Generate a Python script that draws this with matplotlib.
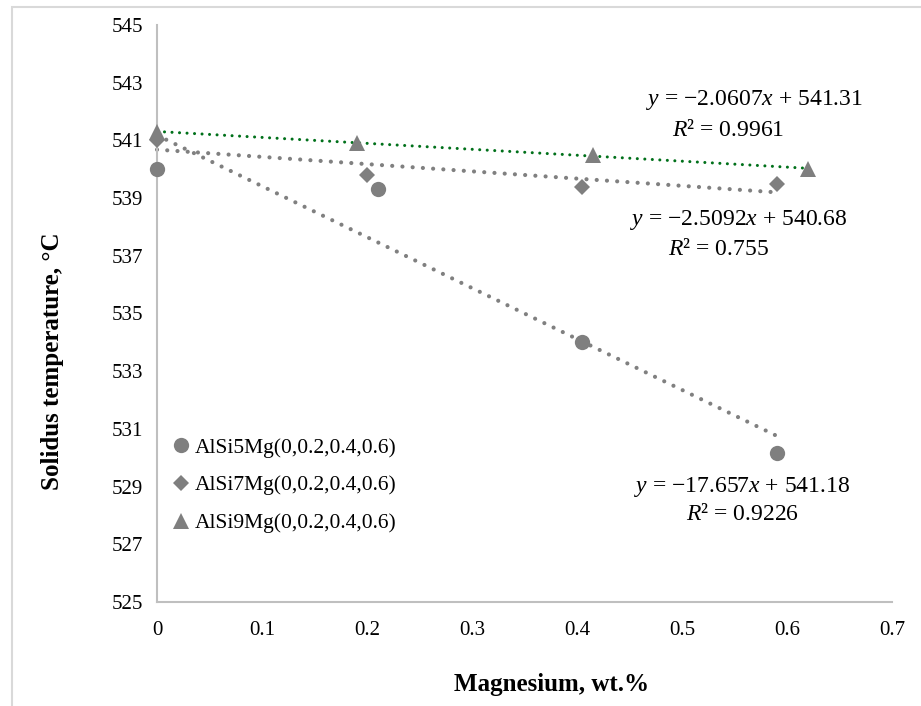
import numpy as np
import matplotlib
matplotlib.use("Agg")
import matplotlib.pyplot as plt
from matplotlib.patches import Rectangle

# Fonts: serif look, italics in the trendline equations
plt.rcParams['font.family'] = ['Liberation Serif', 'DejaVu Serif']
plt.rcParams['mathtext.fontset'] = 'custom'
plt.rcParams['mathtext.rm'] = 'Liberation Serif'
plt.rcParams['mathtext.it'] = 'Liberation Serif:italic'

# Data
series_names = ['AlSi5Mg(0,0.2,0.4,0.6)', 'AlSi7Mg(0,0.2,0.4,0.6)', 'AlSi9Mg(0,0.2,0.4,0.6)']
mg_si5 = [0.0, 0.21, 0.405, 0.59]
temp_si5 = [540.0, 539.3, 534.0, 530.15]
mg_si7 = [0.0, 0.20, 0.405, 0.59]
temp_si7 = [541.0, 539.8, 539.4, 539.5]
mg_si9 = [0.0, 0.19, 0.415, 0.62]
temp_si9 = [541.3, 540.9, 540.5, 540.0]

# Trendline coefficients as printed on the chart
slopes = [-17.657, -2.5092, -2.0607]
intercepts = [541.18, 540.68, 541.31]
r2_values = ['0.9226', '0.755', '0.9961']

y_ticks = list(range(525, 546, 2))
x_ticks = [0, 0.1, 0.2, 0.3, 0.4, 0.5, 0.6, 0.7]
x_tick_labels = ['0', '0.1', '0.2', '0.3', '0.4', '0.5', '0.6', '0.7']

W, H = 921, 706
fig = plt.figure(figsize=(W / 100, H / 100), dpi=100)
ax = fig.add_axes([157 / W, 1 - 602 / H, (892 - 157) / W, (602 - 25) / H])

# outer chart frame
fig.patches.append(Rectangle((12 / W, -0.1), 1.2, 1 - 7 / H + 0.1, transform=fig.transFigure,
                             fill=False, edgecolor='#d9d9d9', linewidth=1.5))

marker_gray = '#7f7f7f'
xs_list = [mg_si5, mg_si7, mg_si9]
ys_list = [temp_si5, temp_si7, temp_si9]
markers = ['o', 'D', '^']
msizes = [11, 8, 11]

for xs, ys, m, ms, name in zip(xs_list, ys_list, markers, msizes, series_names):
    ax.plot(xs, ys, linestyle='none', marker=m, markersize=ms, color=marker_gray,
            markeredgewidth=0, label=name, zorder=3, clip_on=False)

# trendlines (dotted), from x=0 to the last data point
trend_colors = ['#808080', '#808080', '#00701a']
trend_widths = [3.0, 3.0, 2.2]
for xs, k, b, c, lw in zip(xs_list, slopes, intercepts, trend_colors, trend_widths):
    tx = np.array([0.0, xs[-1]])
    ax.plot(tx, k * tx + b, color=c, linewidth=lw, linestyle=(0, (0.01, 2.45)),
            dash_capstyle='round', zorder=2, clip_on=False)

ax.set_xlim(0, 0.7)
ax.set_ylim(525, 545)
ax.set_xticks(x_ticks)
ax.set_xticklabels(x_tick_labels)
ax.set_yticks(y_ticks)
ax.tick_params(length=0, labelsize=15, colors='black')
ax.tick_params(axis='x', pad=14)
ax.tick_params(axis='y', pad=10)
for s in ['top', 'right']:
    ax.spines[s].set_visible(False)
for s in ['left', 'bottom']:
    ax.spines[s].set_color('#bfbfbf')
    ax.spines[s].set_linewidth(1.5)

fig.text(552 / W, 1 - 685 / H, 'Magnesium, wt.%', ha='center', va='center',
         fontsize=18, fontweight='bold')
fig.text(52 / W, 1 - 361 / H, 'Solidus temperature, °C', ha='center', va='center',
         rotation=90, fontsize=18, fontweight='bold')

# trendline equations (centre of each line of text)
eq_pos = [(742, 487, 743, 515), (739, 220, 718, 250), (755, 100, 728, 130)]
for k, b, r2, (ex, ey, rx, ry) in zip(slopes, intercepts, r2_values, eq_pos):
    fig.text(ex / W, 1 - ey / H, r'$y$ = −%g$x$ + %g' % (abs(k), b),
             ha='center', va='center', fontsize=17)
    fig.text(rx / W, 1 - ry / H, r'$R$² = ' + r2, ha='center', va='center', fontsize=17)

leg = ax.legend(loc='upper left', bbox_to_anchor=(2 / (892 - 157), 1 - (429 - 25) / (602 - 25)),
                frameon=False, fontsize=15.5, handletextpad=0.05, handlelength=1.2,
                labelspacing=0.82, borderaxespad=0)

fig.savefig('out.png', dpi=100)
